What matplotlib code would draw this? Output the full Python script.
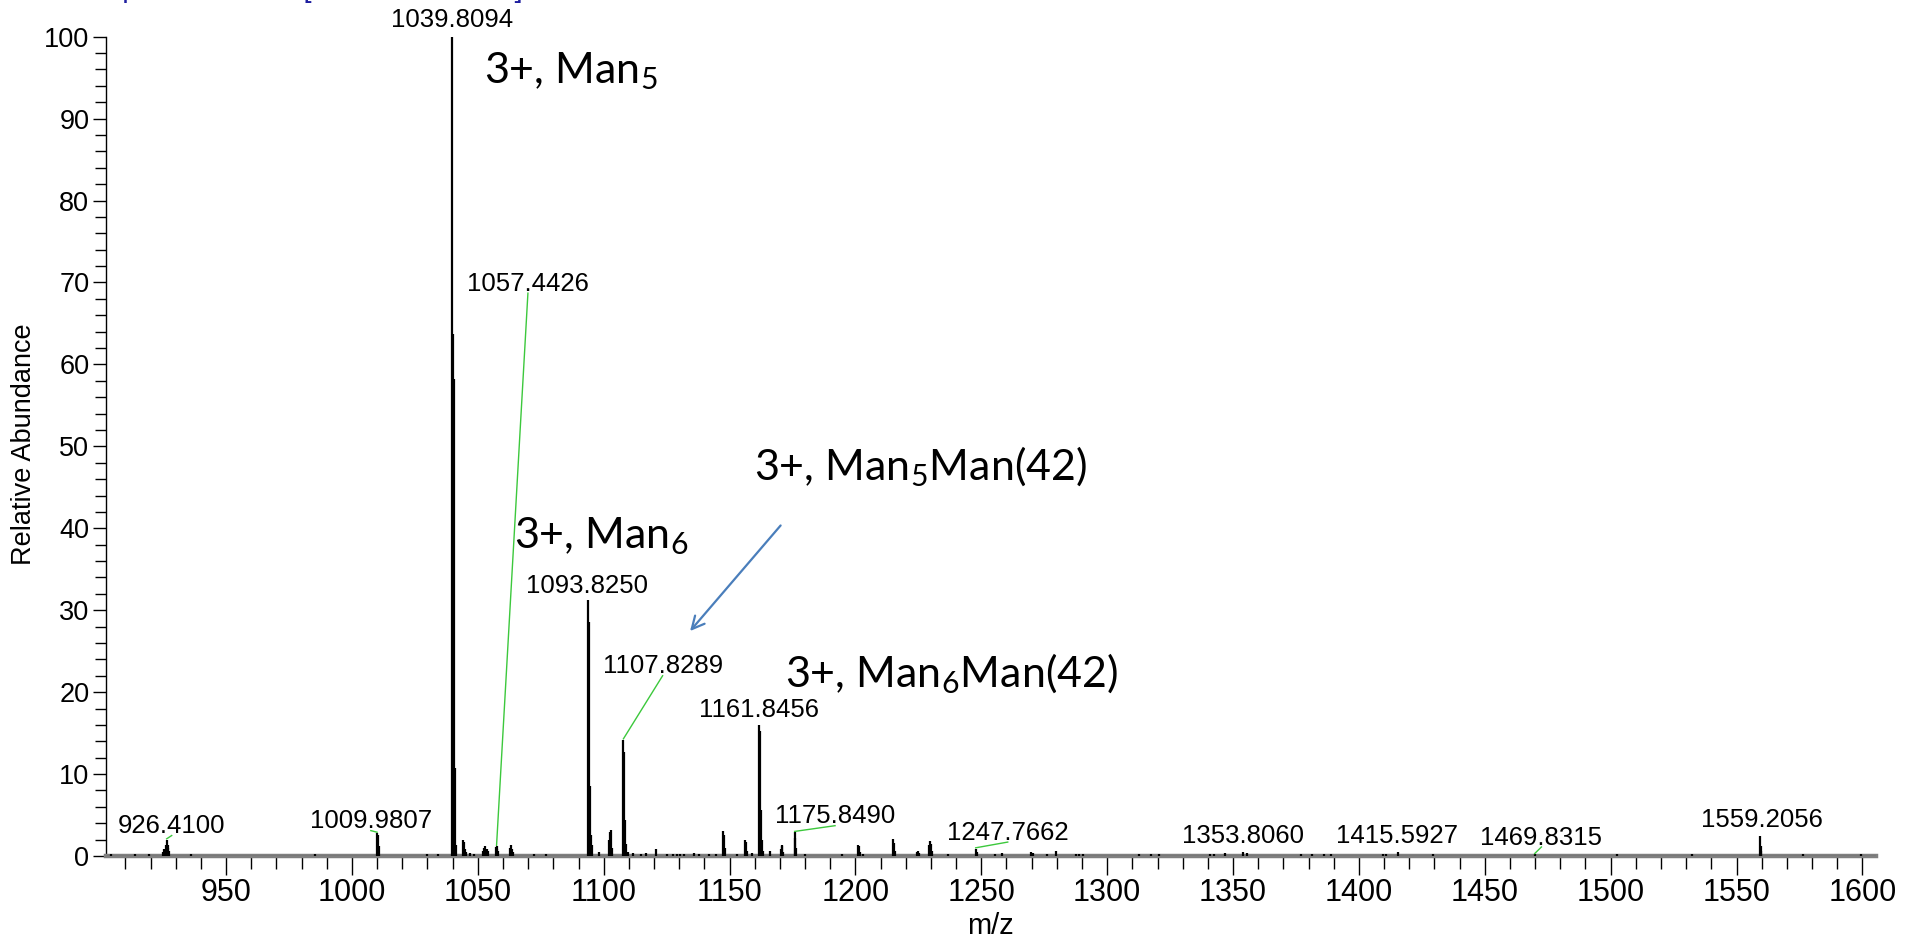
import matplotlib
matplotlib.use('Agg')
import matplotlib.pyplot as plt
from matplotlib import font_manager as fm
from matplotlib.ticker import MultipleLocator

# fonts: narrow face for the m/z axis if it is there
names = {f.name for f in fm.fontManager.ttflist}
SANS = 'Liberation Sans'
NARROW = 'Liberation Sans Narrow' if 'Liberation Sans Narrow' in names else SANS
BIG = 'Lato'
plt.rcParams['font.family'] = [SANS, 'DejaVu Sans']
plt.rcParams['mathtext.default'] = 'regular'

# spectrum sticks (m/z, relative abundance)
peak_mz = [904.4, 913.9, 919.2, 924.8, 925.5, 926.1, 926.41, 926.75, 927.1, 927.5,
           936.0, 985.4, 1009.98, 1010.3, 1010.6, 1029.8, 1034.0,
           1039.8094, 1040.14, 1040.48, 1040.81, 1041.15, 1044.1, 1044.45, 1044.8,
           1045.4, 1046.8, 1048.3, 1051.9, 1052.6, 1053.0, 1053.5, 1054.1,
           1057.1, 1057.4426, 1057.8, 1058.2, 1062.9, 1063.3, 1063.7, 1064.1,
           1072.5, 1077.0, 1093.825, 1094.16, 1094.49, 1094.83, 1095.2, 1098.3,
           1102.2, 1102.5, 1102.85, 1103.2, 1107.8289, 1108.16, 1108.49, 1108.83,
           1109.5, 1111.5, 1115.0, 1117.0, 1120.8, 1125.0, 1127.5, 1129.0, 1130.5,
           1132.0, 1136.0, 1138.0, 1142.0, 1144.5, 1147.5, 1147.85, 1148.2, 1153.0,
           1156.3, 1156.65, 1157.0, 1159.0, 1161.8456, 1162.18, 1162.51, 1162.85,
           1163.2, 1166.2, 1170.3, 1170.7, 1171.0, 1171.4, 1175.849, 1176.18, 1176.5,
           1180.0, 1194.6, 1201.0, 1201.35, 1201.7, 1203.0, 1215.1, 1215.45, 1215.8,
           1224.6, 1225.0, 1225.4, 1229.2, 1229.6, 1230.0, 1230.4, 1236.7,
           1247.7662, 1248.1, 1255.4, 1258.2, 1269.8, 1270.4, 1276.2, 1279.5,
           1287.5, 1289.0, 1290.5, 1312.6, 1317.3, 1320.6, 1341.0, 1342.4, 1347.0,
           1353.806, 1355.5, 1376.9, 1381.5, 1386.2, 1388.8, 1409.6, 1410.9,
           1415.5927, 1429.3, 1469.8315, 1502.6, 1532.5, 1559.2056, 1559.54, 1559.88,
           1576.4, 1599.5]
peak_int = [0.2, 0.2, 0.3, 0.5, 0.9, 1.4, 2.0, 1.4, 1.0, 0.6,
            0.3, 0.3, 2.8, 2.6, 1.2, 0.3, 0.3,
            100.0, 63.7, 58.2, 10.8, 1.4, 1.9, 1.7, 0.8,
            0.5, 0.4, 0.3, 0.6, 1.0, 1.2, 0.8, 0.6,
            1.1, 1.2, 0.8, 0.6, 1.0, 1.4, 0.8, 0.5,
            0.3, 0.3, 31.3, 28.5, 8.6, 2.6, 1.3, 0.5,
            2.0, 2.9, 3.2, 1.0, 14.2, 12.7, 4.4, 1.5,
            0.5, 0.4, 0.3, 0.4, 0.8, 0.3, 0.3, 0.3, 0.3,
            0.3, 0.4, 0.3, 0.3, 0.3, 3.1, 2.6, 1.0, 0.3,
            2.0, 1.7, 0.6, 0.4, 16.0, 15.2, 5.6, 1.9,
            0.6, 0.6, 0.8, 1.2, 1.3, 0.5, 2.9, 2.2, 1.0,
            0.3, 0.3, 1.3, 1.2, 0.5, 0.3, 2.1, 1.6, 0.6,
            0.5, 0.6, 0.4, 1.3, 1.85, 1.5, 0.6, 0.3,
            0.9, 0.5, 0.3, 0.4, 0.5, 0.4, 0.3, 0.6,
            0.3, 0.3, 0.3, 0.2, 0.2, 0.2, 0.3, 0.3, 0.4,
            0.5, 0.4, 0.2, 0.2, 0.2, 0.3, 0.3, 0.3,
            0.5, 0.2, 0.2, 0.2, 0.2, 2.5, 1.2, 0.6,
            0.2, 0.2]

# labelled peaks
label_mz = [926.41, 1009.9807, 1039.8094, 1057.4426, 1093.825, 1107.8289, 1161.8456,
            1175.849, 1247.7662, 1353.806, 1415.5927, 1469.8315, 1559.2056]
label_peak_int = [2.0, 2.8, 100.0, 1.2, 31.3, 14.2, 16.0, 2.9, 0.9, 0.5, 0.5, 0.2, 2.5]

# text positions of those labels (m/z, baseline) and whether a leader is drawn
label_pos = [(928.4, 2.8), (1007.5, 3.4), (1039.9, 101.2), (1069.9, 69.0),
             (1093.3, 32.1), (1123.4, 22.3), (1161.7, 17.0), (1191.9, 4.0),
             (1260.5, 2.0), (1354.0, 1.6), (1415.2, 1.6), (1472.5, 1.4),
             (1559.9, 3.6)]
has_leader = [True, True, False, True, False, True, False, True, True,
              False, False, True, False]

# glycan annotations: text, left m/z, baseline
glycan_text = ['3+, Man$_5$', '3+, Man$_6$', '3+, Man$_5$Man(42)', '3+, Man$_6$Man(42)']
glycan_pos = [(1052.5, 94.3), (1064.2, 37.6), (1159.8, 45.8), (1172.0, 20.6)]

W, H = 1917, 938
fig = plt.figure(figsize=(W / 100, H / 100), dpi=100)
ax = fig.add_axes([106 / W, 82 / H, 1770 / W, 819.3 / H])

ax.vlines(peak_mz, 0, peak_int, color='black', lw=1.6, zorder=3)
ax.axhline(0, color='black', lw=0.8, zorder=3)

ax.set_xlim(902.3, 1605.4)
ax.set_ylim(0, 100)
ax.xaxis.set_major_locator(MultipleLocator(50))
ax.xaxis.set_minor_locator(MultipleLocator(10))
ax.yaxis.set_major_locator(MultipleLocator(10))
ax.yaxis.set_minor_locator(MultipleLocator(2))
ax.set_xticks([t for t in range(950, 1601, 50)])

for s in ['top', 'right']:
    ax.spines[s].set_visible(False)
ax.spines['bottom'].set_color('#808080')
ax.spines['bottom'].set_linewidth(3.2)
ax.spines['left'].set_color('black')
ax.spines['left'].set_linewidth(1.0)

ax.tick_params(axis='x', which='major', length=14, width=1, color='black', pad=2)
ax.tick_params(axis='x', which='minor', length=9, width=1, color='black')
ax.tick_params(axis='y', which='major', length=9.5, width=1, color='black', pad=2.5)
ax.tick_params(axis='y', which='minor', length=8, width=1, color='black')
for lab in ax.get_xticklabels():
    lab.set_fontfamily(NARROW)
    lab.set_fontsize(22)
for lab in ax.get_yticklabels():
    lab.set_fontfamily(SANS)
    lab.set_fontsize(19.5)

fig.text(990 / W, 1 - 926 / H, 'm/z', family=NARROW, fontsize=21,
         ha='center', va='center')
fig.text(24 / W, 1 - 444 / H, 'Relative Abundance', family=SANS, fontsize=19.5,
         rotation=90, ha='center', va='center')

# scan header, cut off at the top edge (only descenders show)
fig.text(10 / W, 1 + 3 / H, 'FTMS + p ESI Full ms [400.00-2000.00]', family=SANS,
         fontsize=21, color='#1f1fa0', ha='left', va='baseline')

# peak labels
for mz, h, (lx, ly), lead in zip(label_mz, label_peak_int, label_pos, has_leader):
    ax.text(lx, ly, f'{mz:.4f}', fontsize=18.5, ha='center', va='baseline',
            clip_on=False, zorder=4)
    if lead:
        ax.plot([lx, mz], [ly - 0.3, h + 0.1], color='#3cc83c', lw=1.0, zorder=4)

for txt, (gx, gy) in zip(glycan_text, glycan_pos):
    ax.text(gx, gy, txt, family=BIG, fontsize=31, ha='left', va='baseline', zorder=4)

ax.annotate('', xy=(1133.6, 27.2), xytext=(1171.0, 40.6),
            arrowprops=dict(arrowstyle='->,head_length=0.9,head_width=0.45',
                            color='#4a7ebb', lw=1.6))

fig.savefig('out.png', dpi=100)
